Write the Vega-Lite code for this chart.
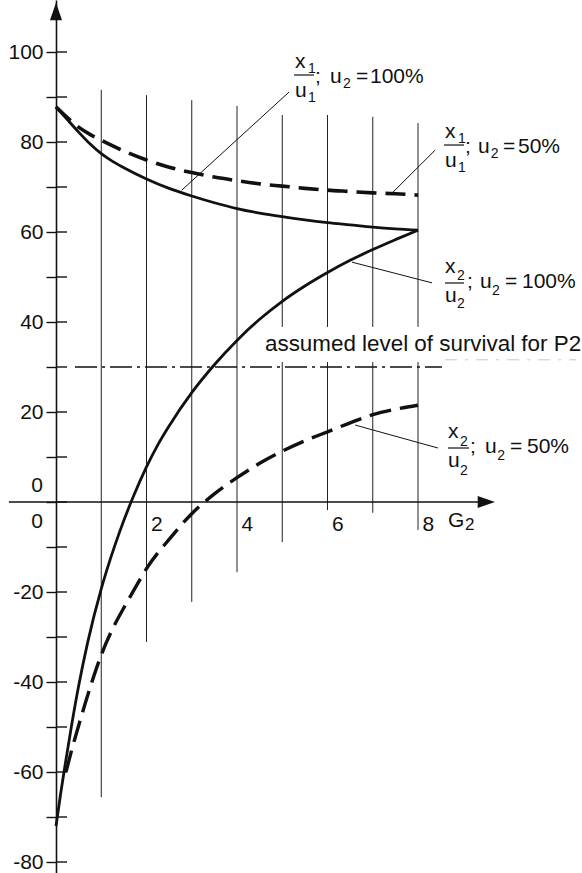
{
  "$schema": "https://vega.github.io/schema/vega-lite/v6.json",
  "width": 582,
  "height": 873,
  "autosize": {"type": "none"},
  "padding": 0,
  "background": "white",
  "config": {"view": {"stroke": null}, "font": "Liberation Sans"},
  "datasets": {
    "grid": [
      {"g": 1, "y1": 91.6, "y2": -65.6},
      {"g": 2, "y1": 90.4, "y2": -31.1},
      {"g": 3, "y1": 89.3, "y2": -22.2},
      {"g": 4, "y1": 88.0, "y2": -15.6},
      {"g": 5, "y1": 86.0, "y2": 38.9}, {"g": 5, "y1": 31.1, "y2": -8.9},
      {"g": 6, "y1": 86.0, "y2": 38.9}, {"g": 6, "y1": 31.1, "y2": -1.8},
      {"g": 7, "y1": 85.6, "y2": 38.9}, {"g": 7, "y1": 31.1, "y2": -2.4},
      {"g": 8, "y1": 84.2, "y2": 38.9}, {"g": 8, "y1": 31.1, "y2": -6.2}
    ],
    "yticks": [
      {"v": -80}, {"v": -70}, {"v": -60}, {"v": -50}, {"v": -40}, {"v": -30}, {"v": -20}, {"v": -10}, {"v": 0},
      {"v": 10}, {"v": 20}, {"v": 30}, {"v": 40}, {"v": 50}, {"v": 60}, {"v": 70}, {"v": 80}, {"v": 90}, {"v": 100}
    ],
    "level": [{"x1": 0.42, "x2": 8.53, "y": 30}],
    "levelFaint": [{"x1": 8.6, "x2": 11.5, "y": 31.6}],
    "xaxis": [{"x1": -1.04, "x2": 9.4, "y": 0}],
    "leaders": [
      {"x1": 2.78, "y1": 69.3, "x2": 5.15, "y2": 91.1},
      {"x1": 7.43, "y1": 68.7, "x2": 8.38, "y2": 78.2},
      {"x1": 6.54, "y1": 53.3, "x2": 8.31, "y2": 48.7},
      {"x1": 6.61, "y1": 17.1, "x2": 8.44, "y2": 12.0}
    ],
    "bars": [
      {"x1": 5.26, "x2": 5.702, "y": 94.89},
      {"x1": 8.575, "x2": 9.017, "y": 79.33},
      {"x1": 8.597, "x2": 9.017, "y": 48.67},
      {"x1": 8.663, "x2": 9.127, "y": 12.0}
    ],
    "arrows": [{"x": 0, "y": 109, "dir": "up"}, {"x": 9.51, "y": 0, "dir": "right"}],
    "curves": [
      {"s": "x1_100", "g": 0, "v": 87.8}, {"s": "x1_100", "g": 0.25, "v": 85.0}, {"s": "x1_100", "g": 0.5, "v": 82.2},
      {"s": "x1_100", "g": 0.75, "v": 79.6}, {"s": "x1_100", "g": 1, "v": 77.4}, {"s": "x1_100", "g": 1.25, "v": 75.7},
      {"s": "x1_100", "g": 1.5, "v": 74.3},
      {"s": "x1_100", "g": 2, "v": 71.8}, {"s": "x1_100", "g": 2.5, "v": 69.7}, {"s": "x1_100", "g": 3, "v": 68.0},
      {"s": "x1_100", "g": 3.5, "v": 66.5}, {"s": "x1_100", "g": 4, "v": 65.2}, {"s": "x1_100", "g": 4.5, "v": 64.2},
      {"s": "x1_100", "g": 5, "v": 63.4}, {"s": "x1_100", "g": 5.5, "v": 62.7}, {"s": "x1_100", "g": 6, "v": 62.1},
      {"s": "x1_100", "g": 6.5, "v": 61.6}, {"s": "x1_100", "g": 7, "v": 61.1}, {"s": "x1_100", "g": 7.5, "v": 60.7},
      {"s": "x1_100", "g": 8, "v": 60.4},
      {"s": "x1_50", "g": 0, "v": 87.8}, {"s": "x1_50", "g": 0.25, "v": 85.4}, {"s": "x1_50", "g": 0.5, "v": 83.3},
      {"s": "x1_50", "g": 0.75, "v": 81.7}, {"s": "x1_50", "g": 1, "v": 80.4}, {"s": "x1_50", "g": 1.5, "v": 78.0},
      {"s": "x1_50", "g": 2, "v": 76.0}, {"s": "x1_50", "g": 2.5, "v": 74.4}, {"s": "x1_50", "g": 3, "v": 73.2},
      {"s": "x1_50", "g": 3.5, "v": 72.2}, {"s": "x1_50", "g": 4, "v": 71.4}, {"s": "x1_50", "g": 4.5, "v": 70.7},
      {"s": "x1_50", "g": 5, "v": 70.2}, {"s": "x1_50", "g": 5.5, "v": 69.7}, {"s": "x1_50", "g": 6, "v": 69.3},
      {"s": "x1_50", "g": 6.5, "v": 69.0}, {"s": "x1_50", "g": 7, "v": 68.7}, {"s": "x1_50", "g": 7.5, "v": 68.5},
      {"s": "x1_50", "g": 8, "v": 68.2},
      {"s": "x2_100", "g": 0, "v": -72.0}, {"s": "x2_100", "g": 0.1, "v": -65.0}, {"s": "x2_100", "g": 0.2, "v": -58.5},
      {"s": "x2_100", "g": 0.35, "v": -49.3}, {"s": "x2_100", "g": 0.5, "v": -40.9}, {"s": "x2_100", "g": 0.7, "v": -31.2},
      {"s": "x2_100", "g": 1.0, "v": -19.3}, {"s": "x2_100", "g": 1.2, "v": -12.7}, {"s": "x2_100", "g": 1.4, "v": -6.8},
      {"s": "x2_100", "g": 1.7, "v": 1.0}, {"s": "x2_100", "g": 2.0, "v": 7.8}, {"s": "x2_100", "g": 2.25, "v": 12.7},
      {"s": "x2_100", "g": 2.5, "v": 16.9}, {"s": "x2_100", "g": 3.0, "v": 24.3}, {"s": "x2_100", "g": 3.5, "v": 30.5},
      {"s": "x2_100", "g": 4.0, "v": 35.9}, {"s": "x2_100", "g": 4.5, "v": 40.6}, {"s": "x2_100", "g": 5.0, "v": 44.6},
      {"s": "x2_100", "g": 5.5, "v": 48.0}, {"s": "x2_100", "g": 6.0, "v": 51.0}, {"s": "x2_100", "g": 6.5, "v": 53.7},
      {"s": "x2_100", "g": 7.0, "v": 56.1}, {"s": "x2_100", "g": 7.5, "v": 58.3}, {"s": "x2_100", "g": 8.0, "v": 60.4},
      {"s": "x2_50", "g": 0.22, "v": -60.0}, {"s": "x2_50", "g": 0.35, "v": -55.0}, {"s": "x2_50", "g": 0.5, "v": -49.7},
      {"s": "x2_50", "g": 0.65, "v": -44.6}, {"s": "x2_50", "g": 0.8, "v": -39.8}, {"s": "x2_50", "g": 1.0, "v": -34.0},
      {"s": "x2_50", "g": 1.25, "v": -28.2}, {"s": "x2_50", "g": 1.5, "v": -23.5}, {"s": "x2_50", "g": 1.75, "v": -19.1},
      {"s": "x2_50", "g": 2.0, "v": -14.8}, {"s": "x2_50", "g": 2.5, "v": -8.3}, {"s": "x2_50", "g": 3.0, "v": -2.6},
      {"s": "x2_50", "g": 3.5, "v": 1.8}, {"s": "x2_50", "g": 4.0, "v": 5.4}, {"s": "x2_50", "g": 4.5, "v": 8.6},
      {"s": "x2_50", "g": 5.0, "v": 11.3}, {"s": "x2_50", "g": 5.5, "v": 13.6}, {"s": "x2_50", "g": 6.0, "v": 15.6},
      {"s": "x2_50", "g": 6.5, "v": 17.6}, {"s": "x2_50", "g": 7.0, "v": 19.4}, {"s": "x2_50", "g": 7.5, "v": 20.6},
      {"s": "x2_50", "g": 8.0, "v": 21.5}
    ],
    "txtMain": [
      {"t": "x", "x": 5.282, "y": 96.44}, {"t": "u", "x": 5.282, "y": 90.0}, {"t": ";", "x": 5.724, "y": 93.11},
      {"t": "u", "x": 6.055, "y": 93.11}, {"t": "=", "x": 6.63, "y": 93.11}, {"t": "100%", "x": 6.939, "y": 93.11},
      {"t": "x", "x": 8.597, "y": 80.89}, {"t": "u", "x": 8.597, "y": 74.44}, {"t": ";", "x": 9.039, "y": 77.56},
      {"t": "u", "x": 9.326, "y": 77.56}, {"t": "=", "x": 9.878, "y": 77.56}, {"t": "50%", "x": 10.21, "y": 77.56},
      {"t": "x", "x": 8.597, "y": 50.89}, {"t": "u", "x": 8.597, "y": 44.44}, {"t": ";", "x": 9.083, "y": 47.56},
      {"t": "u", "x": 9.37, "y": 47.56}, {"t": "=", "x": 9.923, "y": 47.56}, {"t": "100%", "x": 10.298, "y": 47.56},
      {"t": "x", "x": 8.663, "y": 14.22}, {"t": "u", "x": 8.663, "y": 7.78}, {"t": ";", "x": 9.149, "y": 10.89},
      {"t": "u", "x": 9.481, "y": 10.89}, {"t": "=", "x": 10.033, "y": 10.89}, {"t": "50%", "x": 10.409, "y": 10.89},
      {"t": "G", "x": 8.663, "y": -5.56}
    ],
    "txtSub": [
      {"t": "1", "x": 5.569, "y": 95.33}, {"t": "1", "x": 5.569, "y": 88.89}, {"t": "2", "x": 6.34, "y": 92.0},
      {"t": "1", "x": 8.884, "y": 79.78}, {"t": "1", "x": 8.884, "y": 73.33}, {"t": "2", "x": 9.61, "y": 76.44},
      {"t": "2", "x": 8.862, "y": 49.33}, {"t": "2", "x": 8.862, "y": 43.11}, {"t": "2", "x": 9.635, "y": 46.0},
      {"t": "2", "x": 8.928, "y": 12.44}, {"t": "2", "x": 8.928, "y": 6.0}, {"t": "2", "x": 9.75, "y": 9.33}
    ],
    "txtG2sub": [{"t": "2", "x": 9.039, "y": -6.22}],
    "zeros": [{"t": "0", "x": -0.287, "y": 2.22}, {"t": "0", "x": -0.287, "y": -5.78}],
    "levelLabel": [{"t": "assumed level of survival for P2", "x": 4.619, "y": 33.56}]
  },
  "layer": [
    {
      "data": {"name": "grid"},
      "mark": {"type": "rule", "color": "#222", "strokeWidth": 1},
      "encoding": {
        "x": {"field": "g", "type": "quantitative",
              "scale": {"domain": [-1.23757, 11.6243], "nice": false, "zero": false},
              "axis": {"title": null, "orient": "bottom", "offset": -371, "values": [2, 4, 6, 8],
                       "domain": false, "ticks": false, "grid": false, "labelAlign": "left", "labelBaseline": "top",
                       "labelPadding": 11, "labelOffset": 4, "labelFont": "Liberation Sans", "labelFontSize": 21,
                       "labelColor": "#111", "labelOverlap": false, "labelFlush": false}},
        "y": {"field": "y1", "type": "quantitative",
              "scale": {"domain": [-82.444, 111.556], "nice": false, "zero": false},
              "axis": {"title": null, "orient": "left", "offset": -56,
                       "values": [-80, -70, -60, -50, -40, -30, -20, -10, 0, 10, 20, 30, 40, 50, 60, 70, 80, 90, 100],
                       "domain": true, "domainColor": "#111", "domainWidth": 1.6, "ticks": true, "tickSize": 10,
                       "tickColor": "#111", "tickWidth": 1.4, "grid": false,
                       "labelExpr": "datum.value % 20 === 0 && datum.value !== 0 ? '' + datum.value : ''",
                       "labelPadding": 3, "labelFont": "Liberation Sans", "labelFontSize": 21, "labelColor": "#111",
                       "labelOverlap": false, "labelFlush": false}},
        "y2": {"field": "y2"}
      }
    },
    {
      "data": {"name": "yticks"},
      "mark": {"type": "rule", "color": "#111", "strokeWidth": 1.4},
      "encoding": {
        "x": {"datum": 0, "type": "quantitative", "scale": {"domain": [-1.23757, 11.6243], "nice": false, "zero": false}},
        "x2": {"datum": 0.243},
        "y": {"field": "v", "type": "quantitative", "scale": {"domain": [-82.444, 111.556], "nice": false, "zero": false}}
      }
    },
    {
      "data": {"name": "xaxis"},
      "mark": {"type": "rule", "color": "#111", "strokeWidth": 1.6},
      "encoding": {
        "x": {"field": "x1", "type": "quantitative", "scale": {"domain": [-1.23757, 11.6243], "nice": false, "zero": false}},
        "x2": {"field": "x2"},
        "y": {"field": "y", "type": "quantitative", "scale": {"domain": [-82.444, 111.556], "nice": false, "zero": false}}
      }
    },
    {
      "data": {"name": "level"},
      "mark": {"type": "rule", "color": "#111", "strokeWidth": 1.3, "strokeDash": [22, 5, 3, 5]},
      "encoding": {
        "x": {"field": "x1", "type": "quantitative", "scale": {"domain": [-1.23757, 11.6243], "nice": false, "zero": false}},
        "x2": {"field": "x2"},
        "y": {"field": "y", "type": "quantitative", "scale": {"domain": [-82.444, 111.556], "nice": false, "zero": false}}
      }
    },
    {
      "data": {"name": "levelFaint"},
      "mark": {"type": "rule", "color": "#c8c8c8", "strokeWidth": 1, "strokeDash": [12, 8, 3, 8]},
      "encoding": {
        "x": {"field": "x1", "type": "quantitative", "scale": {"domain": [-1.23757, 11.6243], "nice": false, "zero": false}},
        "x2": {"field": "x2"},
        "y": {"field": "y", "type": "quantitative", "scale": {"domain": [-82.444, 111.556], "nice": false, "zero": false}}
      }
    },
    {
      "data": {"name": "leaders"},
      "mark": {"type": "rule", "color": "#111", "strokeWidth": 1},
      "encoding": {
        "x": {"field": "x1", "type": "quantitative", "scale": {"domain": [-1.23757, 11.6243], "nice": false, "zero": false}},
        "x2": {"field": "x2"},
        "y": {"field": "y1", "type": "quantitative", "scale": {"domain": [-82.444, 111.556], "nice": false, "zero": false}},
        "y2": {"field": "y2"}
      }
    },
    {
      "data": {"name": "bars"},
      "mark": {"type": "rule", "color": "#111", "strokeWidth": 1.2},
      "encoding": {
        "x": {"field": "x1", "type": "quantitative", "scale": {"domain": [-1.23757, 11.6243], "nice": false, "zero": false}},
        "x2": {"field": "x2"},
        "y": {"field": "y", "type": "quantitative", "scale": {"domain": [-82.444, 111.556], "nice": false, "zero": false}}
      }
    },
    {
      "data": {"name": "curves"},
      "transform": [{"filter": "datum.s === 'x1_100' || datum.s === 'x2_100'"}],
      "mark": {"type": "line", "color": "#111", "strokeWidth": 2.8, "interpolate": "monotone"},
      "encoding": {
        "x": {"field": "g", "type": "quantitative", "scale": {"domain": [-1.23757, 11.6243], "nice": false, "zero": false}},
        "y": {"field": "v", "type": "quantitative", "scale": {"domain": [-82.444, 111.556], "nice": false, "zero": false}},
        "detail": {"field": "s"}
      }
    },
    {
      "data": {"name": "curves"},
      "transform": [{"filter": "datum.s === 'x1_50'"}],
      "mark": {"type": "line", "color": "#111", "strokeWidth": 3.6, "strokeDash": [20, 9], "interpolate": "monotone"},
      "encoding": {
        "x": {"field": "g", "type": "quantitative", "scale": {"domain": [-1.23757, 11.6243], "nice": false, "zero": false}},
        "y": {"field": "v", "type": "quantitative", "scale": {"domain": [-82.444, 111.556], "nice": false, "zero": false}}
      }
    },
    {
      "data": {"name": "curves"},
      "transform": [{"filter": "datum.s === 'x2_50'"}],
      "mark": {"type": "line", "color": "#111", "strokeWidth": 3.4, "strokeDash": [22, 9], "interpolate": "monotone"},
      "encoding": {
        "x": {"field": "g", "type": "quantitative", "scale": {"domain": [-1.23757, 11.6243], "nice": false, "zero": false}},
        "y": {"field": "v", "type": "quantitative", "scale": {"domain": [-82.444, 111.556], "nice": false, "zero": false}}
      }
    },
    {
      "data": {"name": "arrows"},
      "mark": {"type": "point", "filled": true, "color": "#111", "size": 300, "opacity": 1},
      "encoding": {
        "x": {"field": "x", "type": "quantitative", "scale": {"domain": [-1.23757, 11.6243], "nice": false, "zero": false}},
        "y": {"field": "y", "type": "quantitative", "scale": {"domain": [-82.444, 111.556], "nice": false, "zero": false}},
        "shape": {"field": "dir", "type": "nominal", "scale": {"domain": ["up", "right"], "range": ["M0,-1L0.7,1L-0.7,1Z", "M1,0L-1,-0.7L-1,0.7Z"]}, "legend": null}
      }
    },
    {
      "data": {"name": "txtMain"},
      "mark": {"type": "text", "align": "left", "baseline": "alphabetic", "font": "Liberation Sans", "fontSize": 21, "color": "#111"},
      "encoding": {
        "x": {"field": "x", "type": "quantitative", "scale": {"domain": [-1.23757, 11.6243], "nice": false, "zero": false}},
        "y": {"field": "y", "type": "quantitative", "scale": {"domain": [-82.444, 111.556], "nice": false, "zero": false}},
        "text": {"field": "t"}
      }
    },
    {
      "data": {"name": "txtSub"},
      "mark": {"type": "text", "align": "left", "baseline": "alphabetic", "font": "Liberation Sans", "fontSize": 14, "color": "#111"},
      "encoding": {
        "x": {"field": "x", "type": "quantitative", "scale": {"domain": [-1.23757, 11.6243], "nice": false, "zero": false}},
        "y": {"field": "y", "type": "quantitative", "scale": {"domain": [-82.444, 111.556], "nice": false, "zero": false}},
        "text": {"field": "t"}
      }
    },
    {
      "data": {"name": "txtG2sub"},
      "mark": {"type": "text", "align": "left", "baseline": "alphabetic", "font": "Liberation Sans", "fontSize": 17, "color": "#111"},
      "encoding": {
        "x": {"field": "x", "type": "quantitative", "scale": {"domain": [-1.23757, 11.6243], "nice": false, "zero": false}},
        "y": {"field": "y", "type": "quantitative", "scale": {"domain": [-82.444, 111.556], "nice": false, "zero": false}},
        "text": {"field": "t"}
      }
    },
    {
      "data": {"name": "zeros"},
      "mark": {"type": "text", "align": "right", "baseline": "alphabetic", "font": "Liberation Sans", "fontSize": 21, "color": "#111"},
      "encoding": {
        "x": {"field": "x", "type": "quantitative", "scale": {"domain": [-1.23757, 11.6243], "nice": false, "zero": false}},
        "y": {"field": "y", "type": "quantitative", "scale": {"domain": [-82.444, 111.556], "nice": false, "zero": false}},
        "text": {"field": "t"}
      }
    },
    {
      "data": {"name": "levelLabel"},
      "mark": {"type": "text", "align": "left", "baseline": "alphabetic", "font": "Liberation Sans", "fontSize": 22.4, "color": "#111"},
      "encoding": {
        "x": {"field": "x", "type": "quantitative", "scale": {"domain": [-1.23757, 11.6243], "nice": false, "zero": false}},
        "y": {"field": "y", "type": "quantitative", "scale": {"domain": [-82.444, 111.556], "nice": false, "zero": false}},
        "text": {"field": "t"}
      }
    }
  ]
}
